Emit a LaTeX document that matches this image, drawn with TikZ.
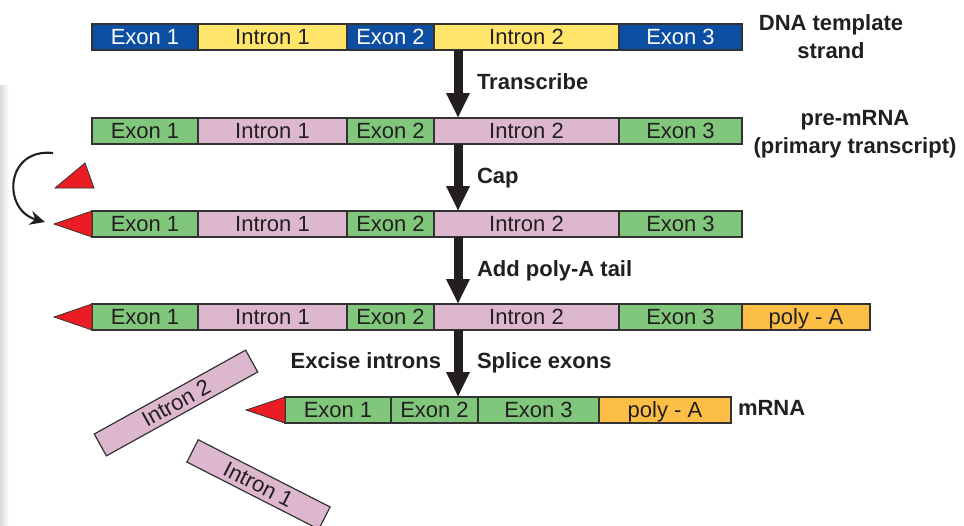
\documentclass[tikz,border=0pt]{standalone}
\usepackage{fontspec}
\setmainfont{Liberation Sans}
\usetikzlibrary{arrows.meta}
\definecolor{dnablue}{HTML}{0B4EA2}
\definecolor{dnayellow}{HTML}{FFE66B}
\definecolor{rnagreen}{HTML}{80C77C}
\definecolor{rnapink}{HTML}{DDB7CE}
\definecolor{polyorange}{HTML}{FDBE45}
\definecolor{capred}{HTML}{EC1C24}
\definecolor{ink}{HTML}{231F20}
\definecolor{edgegray}{HTML}{333333}
\begin{document}
\begin{tikzpicture}[x=1pt,y=-1pt,
  seg/.style={draw=edgegray, line width=1.2pt, minimum height=26pt, inner sep=0pt, outer sep=0pt,
    font=\fontsize{22}{26}\selectfont, text height=15.5pt, text depth=0pt, text=ink},
  dna/.style={seg, fill=dnablue, text=white},
  intr/.style={seg, fill=dnayellow},
  ex/.style={seg, fill=rnagreen},
  rin/.style={seg, fill=rnapink},
  poly/.style={seg, fill=polyorange},
  capshape/.style={fill=capred, draw=edgegray, line width=0.8pt, line join=miter},
  bigarrow/.style={line width=9pt, draw=ink, -{Triangle[length=25pt 0 0,width=22pt 0 0]}},
  lab/.style={font=\bfseries\fontsize{22}{28}\selectfont, text=ink, inner sep=0pt, outer sep=0pt, text height=15.5pt, text depth=0pt},
  lab2/.style={font=\bfseries\fontsize{22}{28}\selectfont, text=ink, inner sep=0pt, outer sep=0pt, align=center}
]
\useasboundingbox (0,0) rectangle (964,525);
\clip (0,0) rectangle (964,525);
\shade[left color=black!14, right color=white] (0,85) rectangle (9,525);

% Row 1: DNA
\node[dna,  minimum width=106pt] (a1) at (145,37)   {Exon 1};
\node[intr, minimum width=149pt] (a2) at (272.5,37) {Intron 1};
\node[dna,  minimum width=87pt]  (a3) at (390.5,37) {Exon 2};
\node[intr, minimum width=185pt] (a4) at (526.5,37) {Intron 2};
\node[dna,  minimum width=123pt] (a5) at (680.5,37) {Exon 3};

% Row 2: pre-mRNA
\node[ex,  minimum width=106pt] (b1) at (145,131)   {Exon 1};
\node[rin, minimum width=149pt] (b2) at (272.5,131) {Intron 1};
\node[ex,  minimum width=87pt]  (b3) at (390.5,131) {Exon 2};
\node[rin, minimum width=185pt] (b4) at (526.5,131) {Intron 2};
\node[ex,  minimum width=123pt] (b5) at (680.5,131) {Exon 3};

% Row 3: capped
\node[ex,  minimum width=106pt] (c1) at (145,224)   {Exon 1};
\node[rin, minimum width=149pt] (c2) at (272.5,224) {Intron 1};
\node[ex,  minimum width=87pt]  (c3) at (390.5,224) {Exon 2};
\node[rin, minimum width=185pt] (c4) at (526.5,224) {Intron 2};
\node[ex,  minimum width=123pt] (c5) at (680.5,224) {Exon 3};
\coordinate (ctip) at (54,224);
\path[capshape] (ctip) -- (c1.north west) -- (c1.south west) -- cycle;

% Row 4: poly-A
\node[ex,  minimum width=106pt] (d1) at (145,317)   {Exon 1};
\node[rin, minimum width=149pt] (d2) at (272.5,317) {Intron 1};
\node[ex,  minimum width=87pt]  (d3) at (390.5,317) {Exon 2};
\node[rin, minimum width=185pt] (d4) at (526.5,317) {Intron 2};
\node[ex,  minimum width=123pt] (d5) at (680.5,317) {Exon 3};
\node[poly, minimum width=128pt] (d6) at (806,317)  {poly - A};
\coordinate (dtip) at (54,317);
\path[capshape] (dtip) -- (d1.north west) -- (d1.south west) -- cycle;

% Row 5: mRNA
\node[ex,  minimum width=106pt] (e1) at (338,410)   {Exon 1};
\node[ex,  minimum width=87pt]  (e2) at (434.5,410) {Exon 2};
\node[ex,  minimum width=121pt] (e3) at (538.5,410) {Exon 3};
\node[poly, minimum width=132pt] (e4) at (665,410)  {poly - A};
\coordinate (etip) at (246,410);
\path[capshape] (etip) -- (e1.north west) -- (e1.south west) -- cycle;

% free cap and curved arrow
\path[capshape] (55,188) -- (85,163) -- (94,188) -- cycle;
\coordinate (arcS) at (53,153);
\coordinate (arcE) at (45,222);
\draw[line width=2.1pt, draw=ink, -{Stealth[length=15pt 0 0,width=14pt 0 0]}] (arcS) .. controls (5,148) and (2,210) .. (arcE);

% excised introns
\node[rin, minimum width=173pt, minimum height=25pt, rotate=29] (x2) at (176,403) {Intron 2};
\node[rin, minimum width=148pt, minimum height=25pt, rotate=-27] (x1) at (258.5,484.5) {Intron 1};

% vertical arrows
\coordinate (ax) at (458,0);
\draw[bigarrow] (a4.south -| ax) -- (b4.north -| ax);
\draw[bigarrow] (b4.south -| ax) -- (c4.north -| ax);
\draw[bigarrow] (c4.south -| ax) -- (d4.north -| ax);
\draw[bigarrow] (d4.south -| ax) -- (e2.north -| ax);

% step labels
\node[lab, anchor=west] (l1) at (477,82)  {Transcribe};
\node[lab, anchor=west] (l2) at (477,176) {Cap};
\node[lab, anchor=west] (l3) at (477,269) {Add poly-A tail};
\node[lab, anchor=east] (l4) at (441,361) {Excise introns};
\node[lab, anchor=west] (l5) at (477,361) {Splice exons};

% row labels
\node[lab2] (t1) at (831,37) {DNA template\\strand};
\node[lab2] (t2) at (855,134) {pre-mRNA\\(primary transcript)};
\node[lab, anchor=west] (t3) at (738,408) {mRNA};
\end{tikzpicture}
\end{document}
